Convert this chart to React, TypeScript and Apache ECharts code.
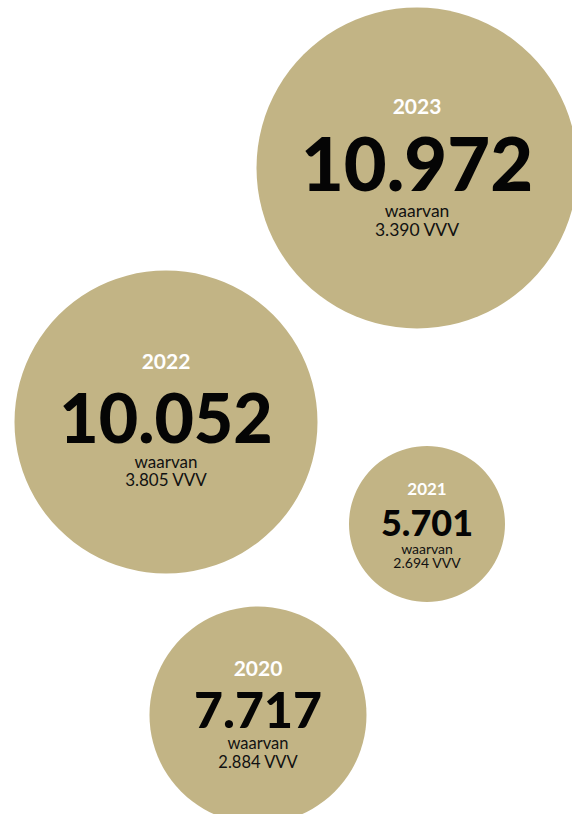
import React, { useEffect, useRef } from "react";
import * as echarts from "echarts";

// ---- data ----
const years = ["2023", "2022", "2021", "2020"];
const totals = [10972, 10052, 5701, 7717];
const vvvCounts = [3390, 3805, 2694, 2884];
const subLabel = "waarvan";
const vvvSuffix = "VVV";

// ---- layout (pixel coordinates on hidden axes) ----
const centerX = [417, 166, 427, 258];
const centerY = [168, 422, 524, 715];
const diameters = [321, 303, 156, 217];

// ---- typography per bubble ----
const yearSize = [21, 21, 17, 21];
const numSize = [74, 68, 36, 50];
const smallSize = [17.5, 17, 14, 16.5];
const lineHeights = [
  [37, 77, 19, 19],
  [40, 72, 18, 18],
  [26, 40, 14, 14],
  [35, 49, 19, 19],
];
const labelShift = [-5.5, -8, -1.5, -4.5];

const FILL = "#C2B485";
const FONT = "Lato, 'Open Sans', sans-serif";

const fmt = (n: number) => n.toString().replace(/\B(?=(\d{3})+(?!\d))/g, ".");

export default function App() {
  const ref = useRef<HTMLDivElement>(null);

  useEffect(() => {
    if (!ref.current) return;
    const chart = echarts.init(ref.current, undefined, { renderer: "svg" });

    const data = years.map((y, i) => ({
      value: [centerX[i], centerY[i], totals[i], vvvCounts[i]],
      symbolSize: diameters[i],
      label: {
        show: true,
        position: "inside",
        offset: [0, labelShift[i]],
        formatter: `{y|${y}}\n{n|${fmt(totals[i])}}\n{w|${subLabel}}\n{s|${fmt(vvvCounts[i])} ${vvvSuffix}}`,
        rich: {
          y: {
            fontFamily: FONT,
            fontWeight: "bold",
            fontSize: yearSize[i],
            color: "#ffffff",
            lineHeight: lineHeights[i][0],
            align: "center",
          },
          n: {
            fontFamily: FONT,
            fontWeight: 900,
            fontSize: numSize[i],
            color: "#050505",
            lineHeight: lineHeights[i][1],
            align: "center",
          },
          w: {
            fontFamily: FONT,
            fontWeight: "normal",
            fontSize: smallSize[i],
            color: "#111111",
            lineHeight: lineHeights[i][2],
            align: "center",
          },
          s: {
            fontFamily: FONT,
            fontWeight: "normal",
            fontSize: smallSize[i],
            color: "#111111",
            lineHeight: lineHeights[i][3],
            align: "center",
          },
        },
      },
    }));

    chart.setOption({
      animation: false,
      grid: { left: 0, right: 0, top: 0, bottom: 0 },
      xAxis: { type: "value", min: 0, max: 572, show: false },
      yAxis: { type: "value", min: 0, max: 814, inverse: true, show: false },
      series: [
        {
          type: "scatter",
          symbol: "circle",
          silent: true,
          itemStyle: { color: FILL, opacity: 1 },
          emphasis: { disabled: true },
          data,
        },
      ],
    });

    return () => chart.dispose();
  }, []);

  return (
    <div
      ref={ref}
      style={{ position: "fixed", left: 0, top: 0, width: 572, height: 814, background: "#ffffff" }}
    />
  );
}
